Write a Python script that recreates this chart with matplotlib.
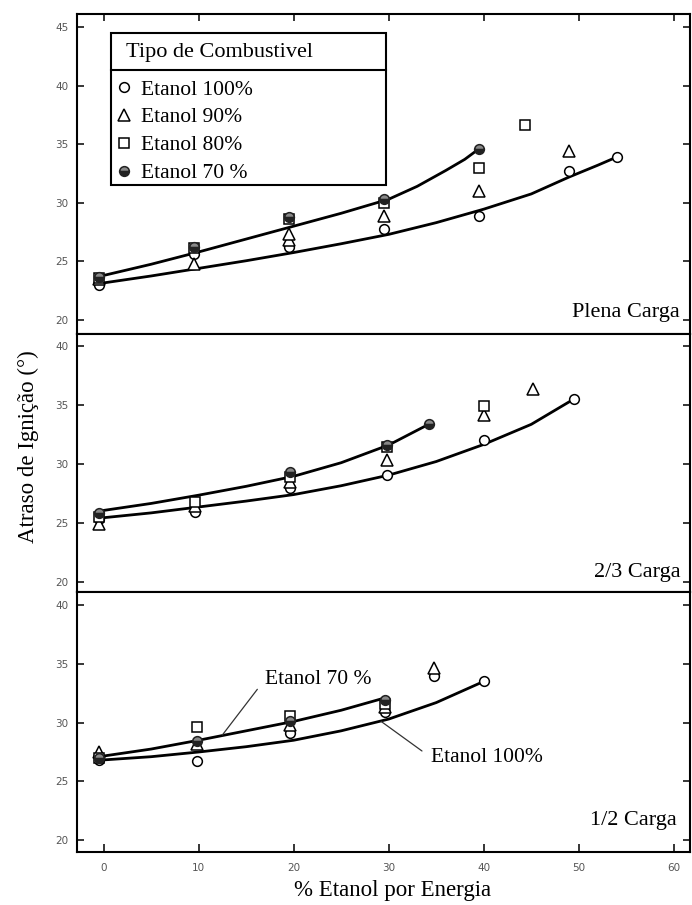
import matplotlib
matplotlib.use("Agg")
import matplotlib.pyplot as plt
from matplotlib.patches import Rectangle
from matplotlib.lines import Line2D

# ---------------- data ----------------
series_labels = ["Etanol 100%", "Etanol 90%", "Etanol 80%", "Etanol 70 %"]
panel_titles = ["Plena Carga", "2/3 Carga", "1/2 Carga"]
x_ticks = [0, 10, 20, 30, 40, 50, 60]

# Plena Carga
full_e100_x = [-0.5, 9.5, 19.5, 29.5, 39.5, 49.0, 54.0]
full_e100_y = [23.0, 25.6, 26.2, 27.8, 28.9, 32.7, 33.9]
full_e90_x = [-0.5, 9.5, 19.5, 19.5, 29.5, 39.5, 49.0]
full_e90_y = [23.5, 24.8, 26.8, 27.3, 28.9, 31.0, 34.4]
full_e80_x = [-0.5, 9.5, 19.5, 29.5, 39.5, 44.3]
full_e80_y = [23.6, 26.1, 28.6, 30.0, 33.0, 36.6]
full_e70_x = [-0.5, 9.5, 19.5, 29.5, 39.5]
full_e70_y = [23.7, 26.2, 28.8, 30.3, 34.6]
full_fit70_x = [-0.5, 5, 10, 15, 20, 25, 30, 33, 36, 38, 39.5]
full_fit70_y = [23.7, 24.75, 25.8, 26.9, 28.0, 29.1, 30.3, 31.4, 32.75, 33.7, 34.6]
full_fit100_x = [-0.5, 5, 10, 15, 20, 25, 30, 35, 40, 45, 49, 52, 54]
full_fit100_y = [23.1, 23.75, 24.4, 25.05, 25.75, 26.5, 27.3, 28.3, 29.45, 30.75, 32.2, 33.2, 33.9]

# 2/3 Carga
mid_e100_x = [-0.5, 9.6, 19.6, 29.8, 40.0, 49.5]
mid_e100_y = [25.3, 25.9, 28.0, 29.1, 32.0, 35.5]
mid_e90_x = [-0.5, 9.6, 19.6, 29.8, 40.0, 45.2]
mid_e90_y = [24.9, 26.4, 28.5, 30.3, 34.1, 36.3]
mid_e80_x = [-0.5, 9.6, 19.6, 29.8, 40.0]
mid_e80_y = [25.5, 26.8, 28.9, 31.4, 34.9]
mid_e70_x = [-0.5, 19.6, 29.8, 34.2]
mid_e70_y = [25.8, 29.3, 31.6, 33.4]
mid_fit70_x = [-0.5, 5, 10, 15, 20, 25, 30, 34.2]
mid_fit70_y = [26.0, 26.65, 27.35, 28.1, 28.95, 30.1, 31.6, 33.35]
mid_fit100_x = [-0.5, 5, 10, 15, 20, 25, 30, 35, 40, 45, 49.5]
mid_fit100_y = [25.4, 25.85, 26.35, 26.85, 27.4, 28.15, 29.05, 30.2, 31.65, 33.35, 35.5]

# 1/2 Carga
half_e100_x = [-0.5, 9.8, 19.6, 29.6, 34.8, 40.0]
half_e100_y = [26.8, 26.7, 29.1, 30.9, 34.0, 33.5]
half_e90_x = [-0.5, 9.8, 19.6, 29.6, 34.8]
half_e90_y = [27.5, 28.2, 29.8, 31.3, 34.6]
half_e80_x = [-0.5, 9.8, 19.6, 29.6]
half_e80_y = [27.0, 29.6, 30.6, 31.6]
half_e70_x = [-0.5, 9.8, 19.6, 29.6]
half_e70_y = [27.0, 28.4, 30.1, 31.9]
half_fit70_x = [-0.5, 5, 10, 15, 20, 25, 29.6]
half_fit70_y = [27.1, 27.75, 28.5, 29.3, 30.1, 31.05, 32.1]
half_fit100_x = [-0.5, 5, 10, 15, 20, 25, 30, 35, 40]
half_fit100_y = [26.8, 27.1, 27.5, 27.95, 28.5, 29.3, 30.3, 31.7, 33.5]

# ---------------- style ----------------
SERIF = ["Liberation Serif", "DejaVu Serif"]
TICKC = "#555555"

markers = [
    dict(marker="o", ms=7, mfc="white", mec="black", mew=1.1),
    dict(marker="^", ms=8, mfc="white", mec="black", mew=1.1),
    dict(marker="s", ms=7.5, mfc="white", mec="black", mew=1.1),
    dict(marker="o", ms=7, mfc="#222222", mec="#222222", mew=1.1,
         fillstyle="bottom", markerfacecoloralt="#888888"),
]

fig = plt.figure(figsize=(6.92, 9.05), dpi=100)
W, H = 692, 905
left_px, right_px = 77, 690


def add_ax(top_px, bot_px):
    return fig.add_axes([left_px / W, 1 - bot_px / H,
                         (right_px - left_px) / W, (bot_px - top_px) / H])


ax_top = add_ax(14, 334)
ax_mid = add_ax(334, 592)
ax_bot = add_ax(592, 852)

panels = [
    (ax_top, (18.8, 46.1), [20, 25, 30, 35, 40, 45],
     [(full_e100_x, full_e100_y), (full_e90_x, full_e90_y),
      (full_e80_x, full_e80_y), (full_e70_x, full_e70_y)],
     (full_fit70_x, full_fit70_y), (full_fit100_x, full_fit100_y), 0.066),
    (ax_mid, (19.15, 41.0), [20, 25, 30, 35, 40],
     [(mid_e100_x, mid_e100_y), (mid_e90_x, mid_e90_y),
      (mid_e80_x, mid_e80_y), (mid_e70_x, mid_e70_y)],
     (mid_fit70_x, mid_fit70_y), (mid_fit100_x, mid_fit100_y), 0.074),
    (ax_bot, (19.0, 41.1), [20, 25, 30, 35, 40],
     [(half_e100_x, half_e100_y), (half_e90_x, half_e90_y),
      (half_e80_x, half_e80_y), (half_e70_x, half_e70_y)],
     (half_fit70_x, half_fit70_y), (half_fit100_x, half_fit100_y), 0.123),
]

handles = []
for i, (ax, ylim, yt, series, fit70, fit100, label_y) in enumerate(panels):
    ax.plot(fit70[0], fit70[1], color="black", lw=2.0, zorder=2,
            solid_capstyle="round", solid_joinstyle="round")
    ax.plot(fit100[0], fit100[1], color="black", lw=2.0, zorder=2,
            solid_capstyle="round", solid_joinstyle="round")
    for k, (sx, sy) in enumerate(series):
        h, = ax.plot(sx, sy, ls="none", zorder=3 + k, **markers[k])
        if i == 0:
            handles.append(h)
    ax.set_xlim(-2.8, 61.7)
    ax.set_ylim(*ylim)
    ax.set_yticks(yt)
    ax.set_xticks(x_ticks)
    for sp in ax.spines.values():
        sp.set_linewidth(1.5)
    ax.tick_params(axis="y", direction="in", length=5, width=1.1,
                   left=True, right=True, labelsize=7.5, labelcolor=TICKC,
                   pad=6)
    ax.text(0.984 if i < 2 else 0.979, label_y, panel_titles[i],
            transform=ax.transAxes, ha="right", va="center",
            fontsize=16, family=SERIF)

ax_top.tick_params(axis="x", direction="in", length=5, width=1.1,
                   top=True, bottom=False, labelbottom=False)
ax_mid.tick_params(axis="x", bottom=False, top=False, labelbottom=False)
ax_bot.tick_params(axis="x", direction="in", length=6, width=1.1,
                   top=False, bottom=True, labelsize=7.5, labelcolor=TICKC,
                   pad=8)

# ---------------- legend box (top panel) ----------------
box_x0, box_x1 = 0.0555, 0.504
box_y0, box_y1 = 0.4656, 0.9406
ax_top.add_patch(Rectangle((box_x0, box_y0), box_x1 - box_x0, box_y1 - box_y0,
                           transform=ax_top.transAxes, fill=True,
                           facecolor="white", edgecolor="black", lw=1.5,
                           zorder=10))
ax_top.add_line(Line2D([box_x0, box_x1], [0.825, 0.825],
                       transform=ax_top.transAxes, color="black", lw=1.5,
                       zorder=11))
ax_top.text(0.080, 0.881, "Tipo de Combustivel", transform=ax_top.transAxes,
            ha="left", va="center", fontsize=16, family=SERIF, zorder=12)
leg = ax_top.legend(handles, series_labels, loc="upper left",
                    bbox_to_anchor=(0.066, 0.795), frameon=False,
                    prop=dict(family=SERIF, size=15.5), handlelength=0.6,
                    handletextpad=0.5, labelspacing=0.36, borderpad=0,
                    borderaxespad=0, markerscale=1.0)
leg.set_zorder(13)

# ---------------- annotations (bottom panel) ----------------
ax_bot.annotate("Etanol 70 %", xy=(12.5, 28.95), xytext=(17.0, 33.7),
                ha="left", va="center", fontsize=15.5, family=SERIF,
                arrowprops=dict(arrowstyle="-", color="#333333", lw=0.9,
                                relpos=(0, 0.5), shrinkA=6, shrinkB=0))
ax_bot.annotate("Etanol 100%", xy=(29.2, 30.1), xytext=(34.5, 27.0),
                ha="left", va="center", fontsize=15.5, family=SERIF,
                arrowprops=dict(arrowstyle="-", color="#333333", lw=0.9,
                                relpos=(0, 0.5), shrinkA=6, shrinkB=0))

# ---------------- axis labels ----------------
fig.text(393 / W, 1 - 890 / H, "% Etanol por Energia", ha="center",
         va="center", fontsize=16.5, family=SERIF)
fig.text(28 / W, 1 - 447 / H, "Atraso de Ignição (°)", ha="center",
         va="center", rotation=90, fontsize=16.5, family=SERIF)

fig.savefig("out.png", dpi=100)
